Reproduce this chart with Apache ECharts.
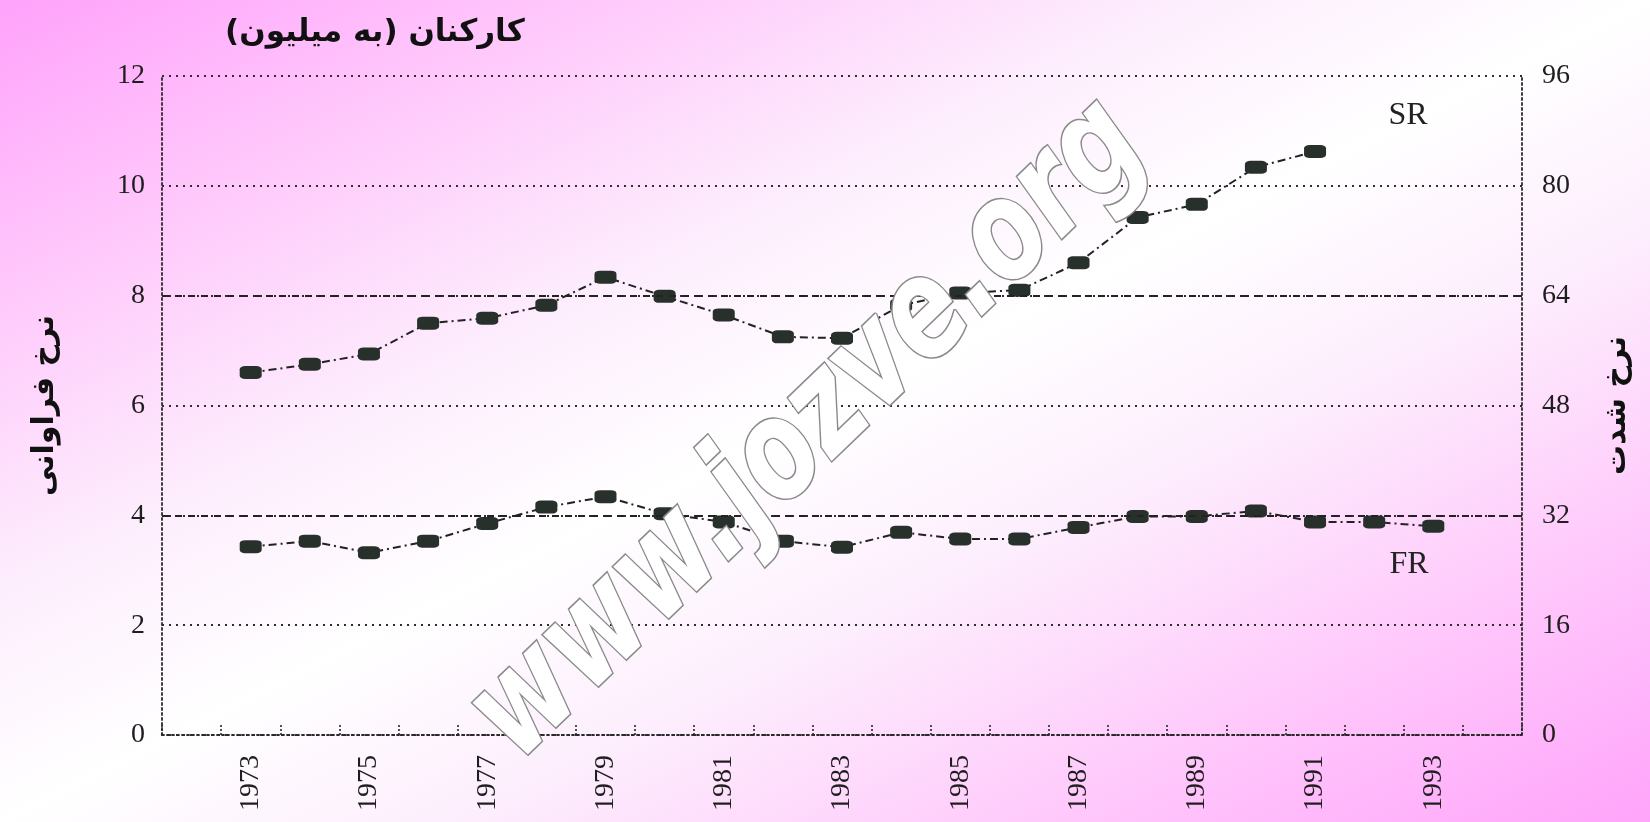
<!DOCTYPE html>
<html>
<head>
<meta charset="utf-8">
<script src="https://cdn.jsdelivr.net/npm/echarts@6/dist/echarts.min.js"></script>
<style>
html,body{margin:0;padding:0;}
#chart{width:1650px;height:822px;background:linear-gradient(to bottom right,#ffa2fb 0%,#ffc4fb 16%,#fdeefd 36%,#ffffff 50%,#fdeefd 64%,#ffc4fb 84%,#ffa4fa 100%);}
</style>
</head>
<body>
<div id="chart"></div>
<script>
// categories (1972 and 1994 are empty padding slots on the axis)
const years = ['1972','1973','1974','1975','1976','1977','1978','1979','1980','1981','1982','1983',
  '1984','1985','1986','1987','1988','1989','1990','1991','1992','1993','1994'];
const labeledYears = ['1973','1975','1977','1979','1981','1983','1985','1987','1989','1991','1993'];
// frequency rate (left axis)
const frValues = [null,3.43,3.53,3.32,3.53,3.85,4.15,4.34,4.03,3.88,3.53,3.42,3.69,3.57,3.57,3.78,3.98,3.98,4.08,3.88,3.88,3.80,null];
// severity rate (right axis)
const srValues = [null,52.8,54.0,55.5,60.0,60.7,62.6,66.7,63.9,61.2,58.0,57.8,62.6,64.4,64.8,68.8,75.4,77.3,82.7,85.0,null,null,null];
const leftTicks = [0,2,4,6,8,10,12];
const rightTicks = [0,16,32,48,64,80,96];
const dashedLevels = [4,8];
const titleText = 'کارکنان (به میلیون)';
const leftName = 'نرخ فراوانی';
const rightName = 'نرخ شدت';
const seriesNames = ['FR','SR'];
const watermark = 'www.jozve.org';

const chart = echarts.init(document.getElementById('chart'), null, {renderer:'canvas'});
const serif = '"Liberation Serif","DejaVu Serif",serif';
const ink = '#2a2a2a';
const markerColor = '#27302a';

chart.setOption({
  backgroundColor: 'transparent',
  animation: false,
  title: {
    text: titleText + '\u200F',
    left: 220, top: 12,
    textStyle: {fontFamily:'"DejaVu Sans",sans-serif', fontWeight:'bold', fontSize:31, color:'#111'}
  },
  grid: {left:162, right:128, top:76, bottom:87},
  xAxis: {
    type:'category', data: years, boundaryGap: true,
    axisLine: {show:true, lineStyle:{color:ink, width:1.8, type:[2,3]}},
    axisTick: {show:true, inside:true, length:10, interval:0, lineStyle:{color:ink, width:1.6, type:[2,2]}},
    axisLabel: {
      rotate: 90, margin: 20, fontFamily: serif, fontSize: 28, color: '#1e1e1e',
      interval: (idx, val) => labeledYears.indexOf(val) >= 0
    },
    splitLine: {show:false}
  },
  yAxis: [
    {
      type:'value', min: leftTicks[0], max: leftTicks[leftTicks.length-1], interval: leftTicks[1]-leftTicks[0],
      position:'left',
      name: leftName, nameLocation:'middle', nameRotate: 90, nameGap: 102,
      nameTextStyle: {fontFamily:'"DejaVu Sans",sans-serif', fontWeight:'bold', fontSize:30, color:'#111'},
      axisLine: {show:true, lineStyle:{color:ink, width:1.8, type:[2,3]}},
      axisTick: {show:false},
      axisLabel: {margin:17, fontFamily: serif, fontSize:28, color:'#1e1e1e'},
      splitLine: {show:true, lineStyle:{color:'#2e2e2e', width:1.8, type:[2,5]}}
    },
    {
      type:'value', min: rightTicks[0], max: rightTicks[rightTicks.length-1], interval: rightTicks[1]-rightTicks[0],
      position:'right',
      name: rightName, nameLocation:'middle', nameRotate: 90, nameGap: 80,
      nameTextStyle: {fontFamily:'"DejaVu Sans",sans-serif', fontWeight:'bold', fontSize:30, color:'#111'},
      axisLine: {show:true, lineStyle:{color:ink, width:1.8, type:[2,3]}},
      axisTick: {show:false},
      axisLabel: {margin:20, fontFamily: serif, fontSize:28, color:'#1e1e1e'},
      splitLine: {show:false}
    }
  ],
  series: [
    {
      name: seriesNames[0], type:'line', yAxisIndex:0, data: frValues,
      symbol:'roundRect', symbolSize:[22,13], showAllSymbol:true,
      itemStyle:{color:markerColor},
      lineStyle:{color:'#222', width:2, type:[8,4,2,4]},
      markLine:{
        silent:true, symbol:'none', label:{show:false},
        lineStyle:{color:'#222', width:2, type:[7,6]},
        data: dashedLevels.map(v => ({yAxis:v}))
      },
      z:3
    },
    {
      name: seriesNames[1], type:'line', yAxisIndex:1, data: srValues,
      symbol:'roundRect', symbolSize:[22,13], showAllSymbol:true,
      itemStyle:{color:markerColor},
      lineStyle:{color:'#222', width:2, type:[8,4,2,4]},
      z:3
    }
  ],
  graphic: [
    {type:'text', x:1408, y:116, style:{text:seriesNames[1], fontFamily:serif, fontSize:32, fill:'#222', textAlign:'center', textVerticalAlign:'middle', align:'center', verticalAlign:'middle'}},
    {type:'text', x:1409, y:565, style:{text:seriesNames[0], fontFamily:serif, fontSize:32, fill:'#222', textAlign:'center', textVerticalAlign:'middle', align:'center', verticalAlign:'middle'}},
    {type:'text', x:810, y:432, rotation: 44*Math.PI/180, scaleY:1.3, z:100,
      style:{text: watermark, fontFamily:'"DejaVu Sans",sans-serif', fontStyle:'italic', fontWeight:'bold', fontSize:106,
        fill:'#ffffff', stroke:'#8a8a8a', lineWidth:2.5,
        shadowColor:'rgba(0,0,0,0.35)', shadowBlur:6, shadowOffsetX:2, shadowOffsetY:2,
        textAlign:'center', textVerticalAlign:'middle', align:'center', verticalAlign:'middle'}}
  ]
});
</script>
</body>
</html>
